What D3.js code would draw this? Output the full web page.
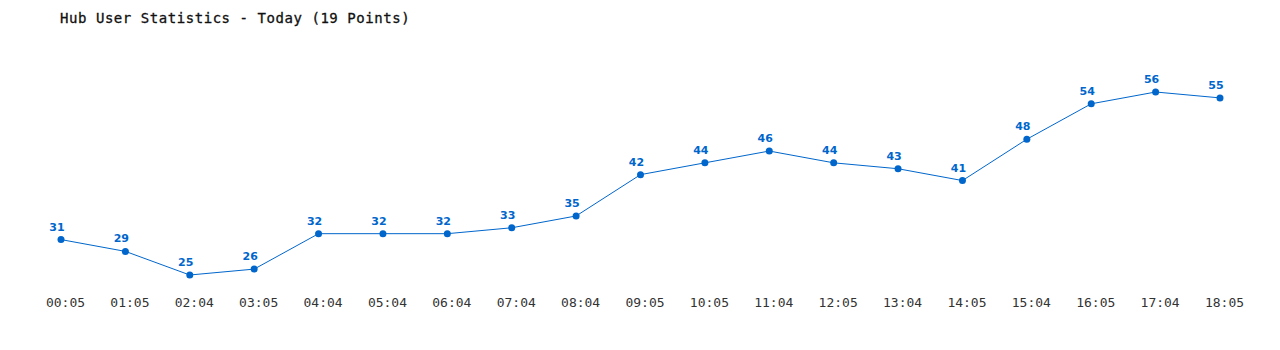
<!DOCTYPE html>
<html>
<head>
<meta charset="utf-8">
<script src="https://cdn.jsdelivr.net/npm/d3@7"></script>
<style>
  body { margin: 0; background: #fff; }
</style>
</head>
<body>
<div id="chart"></div>
<script>
// chart data
const times = ["00:05", "01:05", "02:04", "03:05", "04:04", "05:04", "06:04", "07:04", "08:04", "09:05",
               "10:05", "11:04", "12:05", "13:04", "14:05", "15:04", "16:05", "17:04", "18:05"];
const users = [31, 29, 25, 26, 32, 32, 32, 33, 35, 42, 44, 46, 44, 43, 41, 48, 54, 56, 55];

const width = 1280, height = 350;
const color = "#0066cc";

const svg = d3.select("#chart")
    .append("svg")
    .attr("width", width)
    .attr("height", height);

// title
svg.append("text")
    .attr("x", 60)
    .attr("y", 23)
    .style("font-family", "'DejaVu Sans Mono', monospace")
    .style("font-size", "14px")
    .style("letter-spacing", "0.55px")
    .style("fill", "#111")
    .style("stroke", "#111")
    .style("stroke-width", "0.3px")
    .text("Hub User Statistics - Today (19 Points)");

// scales
const xScale = d3.scalePoint()
    .domain(times)
    .range([61, 1220]);

const yScale = d3.scaleLinear()
    .domain([d3.min(users), d3.max(users)])
    .range([275, 92]);

// x axis labels
const xAxis = svg.append("g")
    .attr("transform", "translate(0,298)")
    .call(d3.axisBottom(xScale).tickSize(0).tickPadding(0));
xAxis.select(".domain").remove();
xAxis.selectAll("text")
    .attr("dx", "4px")
    .style("font-family", "'DejaVu Sans Mono', monospace")
    .style("font-size", "13px")
    .style("fill", "#333");

// line
const line = d3.line()
    .x((d, i) => xScale(times[i]))
    .y(d => yScale(d));

svg.append("path")
    .datum(users)
    .attr("fill", "none")
    .attr("stroke", color)
    .attr("stroke-width", 1)
    .attr("d", line);

// points
svg.selectAll("circle")
    .data(users)
    .enter().append("circle")
    .attr("cx", (d, i) => xScale(times[i]))
    .attr("cy", d => yScale(d))
    .attr("r", 3.5)
    .attr("fill", color);

// value labels
svg.selectAll(".val")
    .data(users)
    .enter().append("text")
    .attr("class", "val")
    .attr("x", (d, i) => xScale(times[i]) - 4)
    .attr("y", d => yScale(d) - 9)
    .attr("text-anchor", "middle")
    .style("font-family", "'DejaVu Sans', Verdana, sans-serif")
    .style("font-size", "11px")
    .style("font-weight", "bold")
    .style("fill", color)
    .text(d => d);
</script>
</body>
</html>
